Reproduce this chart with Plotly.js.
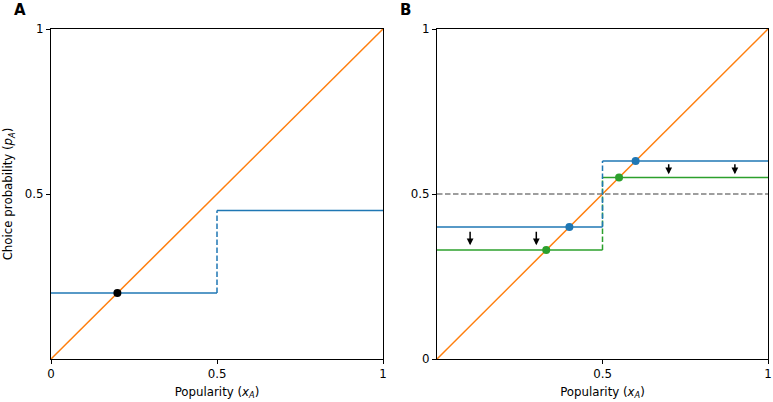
<!DOCTYPE html>
<html><head><meta charset="utf-8">
<script src="https://cdn.plot.ly/plotly-3.0.1.min.js"></script>
<style>body{margin:0;padding:0;background:#fff}#chart{width:773px;height:402px}</style>
</head><body><div id="chart"></div>
<script>
// Data
const diagX = [0, 1];
const diagY = [0, 1];
const threshold = 0.5;
// Panel A
const aLow = 0.2, aHigh = 0.45;
const aDotX = [0.2], aDotY = [0.2];
// Panel B
const bBlueLow = 0.4, bBlueHigh = 0.6;
const bGreenLow = 0.33, bGreenHigh = 0.55;
const bBlueDotX = [0.4, 0.6], bBlueDotY = [0.4, 0.6];
const bGreenDotX = [0.33, 0.55], bGreenDotY = [0.33, 0.55];
const refLineY = 0.5;
const arrowX = [0.1, 0.3, 0.7, 0.9];
const arrowFrom = [0.39, 0.39, 0.595, 0.595];
const arrowTo = [0.345, 0.345, 0.56, 0.56];
const xTicksA = [0, 0.5, 1], yTicksA = [0.5, 1];
const xTicksB = [0.5, 1], yTicksB = [0, 0.5, 1];

const C = {orange:'#ff7f0e', blue:'#1f77b4', green:'#2ca02c', gray:'#7f7f7f'};
const F = 'DejaVu Sans, sans-serif';
const FS = 11.8;

function step(low, high, color, xa, ya) {
  return [
    {x:[0, threshold], y:[low, low], mode:'lines', line:{color, width:1.5}, xaxis:xa, yaxis:ya},
    {x:[threshold, threshold], y:[low, high], mode:'lines', line:{color, width:1.5, dash:'5.5px,2.5px'}, xaxis:xa, yaxis:ya},
    {x:[threshold, 1], y:[high, high], mode:'lines', line:{color, width:1.5}, xaxis:xa, yaxis:ya}
  ];
}

const traces = [];
// Panel A
traces.push({x:diagX, y:diagY, mode:'lines', line:{color:C.orange, width:1.5}, xaxis:'x', yaxis:'y'});
traces.push(...step(aLow, aHigh, C.blue, 'x', 'y'));
traces.push({x:aDotX, y:aDotY, mode:'markers', marker:{color:'#000', size:8}, xaxis:'x', yaxis:'y'});
// Panel B
traces.push({x:[0,1], y:[refLineY, refLineY], mode:'lines', line:{color:C.gray, width:1.5, dash:'5.5px,2.5px'}, xaxis:'x2', yaxis:'y2'});
traces.push({x:diagX, y:diagY, mode:'lines', line:{color:C.orange, width:1.5}, xaxis:'x2', yaxis:'y2'});
traces.push(...step(bGreenLow, bGreenHigh, C.green, 'x2', 'y2'));
traces.push(...step(bBlueLow, bBlueHigh, C.blue, 'x2', 'y2'));
traces.push({x:bBlueDotX, y:bBlueDotY, mode:'markers', marker:{color:C.blue, size:8}, xaxis:'x2', yaxis:'y2'});
traces.push({x:bGreenDotX, y:bGreenDotY, mode:'markers', marker:{color:C.green, size:8}, xaxis:'x2', yaxis:'y2'});

const annotations = arrowX.map((x, i) => ({
  x: x, y: arrowTo[i], ax: x, ay: arrowFrom[i],
  xref:'x2', yref:'y2', axref:'x2', ayref:'y2',
  text:'', showarrow:true, arrowhead:2, arrowsize:0.9, arrowwidth:1.5, arrowcolor:'#000'
}));
annotations.push({text:'<b>A</b>', xref:'paper', yref:'paper', x:20/773, y:1-10/402, xanchor:'center', yanchor:'middle', showarrow:false, font:{family:F, size:15, color:'#000'}});
annotations.push({text:'<b>B</b>', xref:'paper', yref:'paper', x:405/773, y:1-10/402, xanchor:'center', yanchor:'middle', showarrow:false, font:{family:F, size:15, color:'#000'}});

function axis(domain, tickvals, anchor, title) {
  const a = {domain, range:[0,1], tickvals, ticktext:tickvals.map(v=>String(v)), anchor,
    showgrid:false, zeroline:false, showline:true, mirror:true, linecolor:'#000', linewidth:1,
    ticks:'outside', ticklen:4, tickwidth:1, tickcolor:'#000',
    tickfont:{family:F, size:FS, color:'#000'}, fixedrange:true};
  if (title) a.title = {text:title, font:{family:F, size:FS, color:'#000'}, standoff:7};
  return a;
}

const yDom = [43/402, 373/402];
const layout = {
  width:773, height:402, margin:{l:0, r:0, t:0, b:0},
  paper_bgcolor:'#fff', plot_bgcolor:'#fff', showlegend:false,
  xaxis: axis([51/773, 383/773], xTicksA, 'y', 'Popularity (<i>x<sub>A</sub></i>)'),
  yaxis: axis(yDom, yTicksA, 'x', 'Choice probability (<i>p<sub>A</sub></i>)'),
  xaxis2: axis([437/773, 768/773], xTicksB, 'y2', 'Popularity (<i>x<sub>A</sub></i>)'),
  yaxis2: axis(yDom, yTicksB, 'x2', null),
  annotations
};
layout.yaxis.title.standoff = 9;
Plotly.newPlot('chart', traces, layout, {staticPlot:true});
</script></body></html>
